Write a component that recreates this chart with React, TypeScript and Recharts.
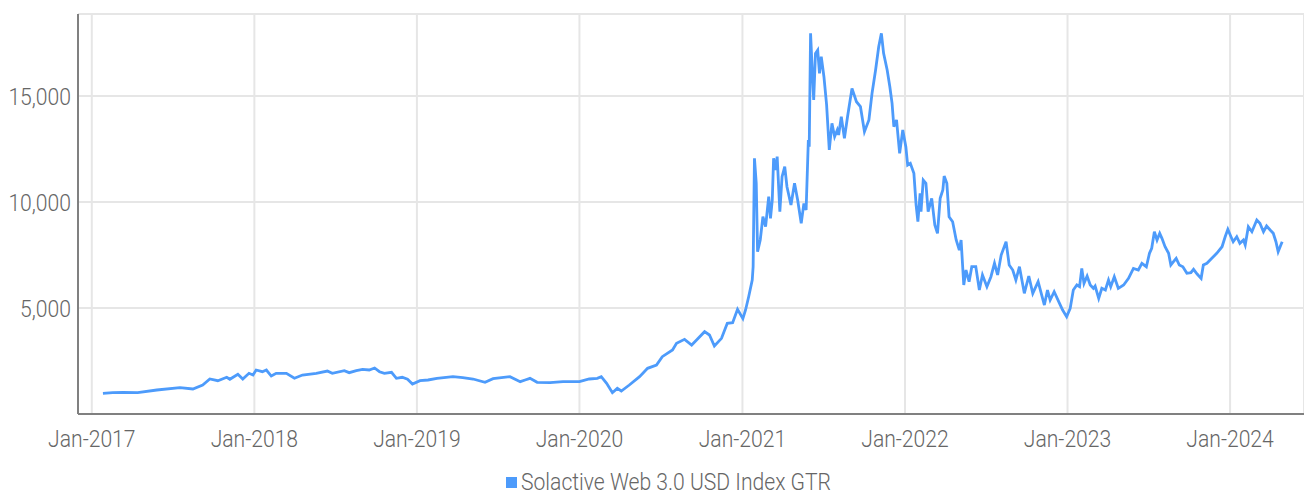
import React from 'react';
import { LineChart, Line, XAxis, YAxis, CartesianGrid, Legend } from 'recharts';

type Pt = [string, number];

const SERIES_NAME = 'Solactive Web 3.0 USD Index GTR';
const LINE_COLOR = '#4d9bfb';
const TEXT_COLOR = '#666666';

// index level readings, roughly weekly, more dense where it moves a lot
const pts2017: Pt[] = [
  ['2017-01-26', 976], ['2017-02-17', 1005], ['2017-03-12', 1023], ['2017-04-14', 1005],
  ['2017-05-27', 1132], ['2017-07-18', 1241], ['2017-08-16', 1179], ['2017-09-07', 1368],
  ['2017-09-23', 1651], ['2017-10-11', 1571], ['2017-10-31', 1731], ['2017-11-07', 1637],
  ['2017-11-25', 1873], ['2017-12-06', 1651], ['2017-12-20', 1920], ['2017-12-29', 1840],
];
const pts2018: Pt[] = [
  ['2018-01-05', 2075], ['2018-01-19', 1995], ['2018-01-28', 2075], ['2018-02-08', 1792],
  ['2018-02-19', 1920], ['2018-03-14', 1920], ['2018-04-01', 1684], ['2018-04-19', 1840],
  ['2018-05-20', 1920], ['2018-06-14', 2028], ['2018-06-25', 1920], ['2018-07-22', 2043],
  ['2018-08-02', 1950], ['2018-08-18', 2043], ['2018-09-01', 2108], ['2018-09-16', 2075],
  ['2018-09-28', 2170], ['2018-10-09', 1995], ['2018-10-20', 1920], ['2018-11-05', 1967],
  ['2018-11-16', 1684], ['2018-11-29', 1731], ['2018-12-11', 1637], ['2018-12-22', 1415],
];
const pts2019: Pt[] = [
  ['2019-01-08', 1571], ['2019-01-26', 1604], ['2019-02-15', 1684], ['2019-03-23', 1760],
  ['2019-04-14', 1713], ['2019-05-07', 1651], ['2019-06-03', 1495], ['2019-06-21', 1667],
  ['2019-07-29', 1760], ['2019-08-21', 1525], ['2019-09-01', 1604], ['2019-09-12', 1684],
  ['2019-09-28', 1495], ['2019-10-27', 1478], ['2019-11-25', 1525],
];
const pts2020: Pt[] = [
  ['2020-01-01', 1525], ['2020-01-23', 1651], ['2020-02-10', 1684], ['2020-02-19', 1760],
  ['2020-03-02', 1447], ['2020-03-15', 1005], ['2020-03-26', 1211], ['2020-04-04', 1085],
  ['2020-04-22', 1368], ['2020-05-15', 1760], ['2020-06-02', 2155], ['2020-06-22', 2311],
  ['2020-07-05', 2703], ['2020-07-28', 3019], ['2020-08-06', 3335], ['2020-08-24', 3523],
  ['2020-09-09', 3255], ['2020-09-20', 3491], ['2020-10-08', 3883], ['2020-10-19', 3727],
  ['2020-10-30', 3208], ['2020-11-15', 3569], ['2020-11-28', 4278], ['2020-12-10', 4309],
  ['2020-12-21', 4939], ['2021-01-02', 4500],
];
const pts2021: Pt[] = [
  ['2021-01-08', 4906], ['2021-01-15', 5533], ['2021-01-23', 6320], ['2021-01-25', 6948],
  ['2021-01-28', 12062], ['2021-02-01', 10883], ['2021-02-04', 7656], ['2021-02-10', 8208],
  ['2021-02-16', 9307], ['2021-02-22', 8836], ['2021-03-01', 10251], ['2021-03-05', 9230],
  ['2021-03-09', 10094], ['2021-03-12', 12062], ['2021-03-16', 11510], ['2021-03-20', 12140],
  ['2021-03-26', 9543], ['2021-03-31', 11194], ['2021-04-06', 11666], ['2021-04-11', 10722],
  ['2021-04-20', 9858], ['2021-04-28', 10883], ['2021-05-05', 10094], ['2021-05-13', 8995],
  ['2021-05-19', 9936], ['2021-05-24', 9622], ['2021-05-29', 12926], ['2021-05-31', 12612],
  ['2021-06-03', 17956], ['2021-06-07', 16068], ['2021-06-10', 14811], ['2021-06-14', 17014],
  ['2021-06-19', 17170], ['2021-06-23', 16068], ['2021-06-27', 16855], ['2021-07-03', 15911],
  ['2021-07-09', 14580], ['2021-07-15', 12455], ['2021-07-21', 13713], ['2021-07-27', 13083],
  ['2021-08-02', 13398], ['2021-08-05', 13162], ['2021-08-11', 14025], ['2021-08-18', 13005],
  ['2021-08-25', 14025], ['2021-09-04', 15361], ['2021-09-14', 14733], ['2021-09-23', 14497],
  ['2021-10-02', 13320], ['2021-10-12', 13870], ['2021-10-19', 15127], ['2021-10-27', 16226],
  ['2021-11-03', 17327], ['2021-11-09', 17956], ['2021-11-14', 17014], ['2021-11-22', 16226],
  ['2021-11-28', 15440], ['2021-12-03', 14655], ['2021-12-07', 13555], ['2021-12-13', 13870],
  ['2021-12-20', 12297], ['2021-12-27', 13398],
];
const pts2022: Pt[] = [
  ['2022-01-03', 12600], ['2022-01-07', 11745], ['2022-01-13', 11825], ['2022-01-21', 11354],
  ['2022-01-26', 9858], ['2022-01-30', 9072], ['2022-02-04', 10411], ['2022-02-06', 9543],
  ['2022-02-11', 11038], ['2022-02-17', 10883], ['2022-02-22', 9543], ['2022-03-02', 10175],
  ['2022-03-09', 8915], ['2022-03-15', 8524], ['2022-03-21', 10175], ['2022-03-27', 10566],
  ['2022-03-30', 11227], ['2022-04-05', 10883], ['2022-04-10', 9307], ['2022-04-18', 9072],
  ['2022-04-26', 8208], ['2022-05-03', 7736], ['2022-05-07', 8208], ['2022-05-13', 6085],
  ['2022-05-18', 6792], ['2022-05-25', 6241], ['2022-05-31', 6948], ['2022-06-09', 6948],
  ['2022-06-17', 5849], ['2022-06-24', 6557], ['2022-07-04', 6005], ['2022-07-13', 6477],
  ['2022-07-21', 7109], ['2022-07-28', 6557], ['2022-08-05', 7500], ['2022-08-16', 8127],
  ['2022-08-23', 7029], ['2022-08-31', 6792], ['2022-09-07', 6320], ['2022-09-15', 6948],
  ['2022-09-26', 5692], ['2022-10-06', 6509], ['2022-10-15', 5692], ['2022-10-27', 6241],
  ['2022-11-10', 5141], ['2022-11-17', 5849], ['2022-11-23', 5377], ['2022-12-02', 5770],
  ['2022-12-14', 5220], ['2022-12-21', 4906], ['2022-12-30', 4591],
];
const pts2023: Pt[] = [
  ['2023-01-07', 4985], ['2023-01-14', 5849], ['2023-01-22', 6085], ['2023-01-28', 6005],
  ['2023-02-02', 6871], ['2023-02-07', 6163], ['2023-02-14', 6509], ['2023-02-21', 6085],
  ['2023-02-28', 5929], ['2023-03-04', 6038], ['2023-03-12', 5457], ['2023-03-19', 5929],
  ['2023-03-27', 5849], ['2023-04-03', 6320], ['2023-04-08', 6005], ['2023-04-16', 6477],
  ['2023-04-25', 5929], ['2023-05-07', 6085], ['2023-05-18', 6400], ['2023-05-29', 6871],
  ['2023-06-09', 6792], ['2023-06-17', 7109], ['2023-06-27', 6948], ['2023-07-04', 7580],
  ['2023-07-09', 7816], ['2023-07-15', 8599], ['2023-07-21', 8208], ['2023-07-27', 8524],
  ['2023-08-01', 8288], ['2023-08-08', 7892], ['2023-08-16', 7580], ['2023-08-21', 7029],
  ['2023-08-27', 7184], ['2023-09-02', 7344], ['2023-09-09', 7029], ['2023-09-17', 6948],
  ['2023-09-26', 6637], ['2023-10-05', 6665], ['2023-10-11', 6826], ['2023-10-19', 6604],
  ['2023-10-28', 6400], ['2023-11-02', 7029], ['2023-11-10', 7109], ['2023-11-21', 7344],
  ['2023-12-02', 7580], ['2023-12-14', 7892], ['2023-12-21', 8363], ['2023-12-27', 8712],
];
const pts2024: Pt[] = [
  ['2024-01-03', 8363], ['2024-01-08', 8127], ['2024-01-16', 8363], ['2024-01-23', 8052],
  ['2024-01-31', 8208], ['2024-02-04', 7972], ['2024-02-11', 8835], ['2024-02-19', 8599],
  ['2024-03-01', 9151], ['2024-03-08', 8995], ['2024-03-16', 8599], ['2024-03-23', 8868],
  ['2024-03-31', 8679], ['2024-04-07', 8524], ['2024-04-13', 8127], ['2024-04-18', 7656],
  ['2024-04-24', 7972], ['2024-04-27', 8127],
];

const xTicks = [
  '2017-01-01', '2018-01-01', '2019-01-01', '2020-01-01',
  '2021-01-01', '2022-01-01', '2023-01-01', '2024-01-01',
];
const yTicks = [5000, 10000, 15000];
const xRange = ['2016-12-01', '2024-06-15'];
const yMax = 18870;

const MONTHS = ['Jan', 'Feb', 'Mar', 'Apr', 'May', 'Jun', 'Jul', 'Aug', 'Sep', 'Oct', 'Nov', 'Dec'];

const ts = (d: string) => Date.parse(d + 'T00:00:00Z');
const fmtDate = (t: number) => {
  const d = new Date(t);
  return `${MONTHS[d.getUTCMonth()]}-${d.getUTCFullYear()}`;
};
const fmtNum = (v: number) => v.toLocaleString('en-US');

const data = [...pts2017, ...pts2018, ...pts2019, ...pts2020, ...pts2021, ...pts2022, ...pts2023, ...pts2024]
  .map(([d, v]) => ({ t: ts(d), value: v }));

const FONT = 'Roboto, "Noto Sans", sans-serif';
const SQUEEZE = 0.88; // the original uses a condensed face

const XTick = (props: any) => {
  const { x, y, payload } = props;
  return (
    <g transform={`translate(${x},${y})`}>
      <text transform={`scale(${SQUEEZE},1)`} textAnchor="middle" dy="0.71em"
        fill={TEXT_COLOR} fontSize={24} fontFamily={FONT} fontWeight={300}>
        {fmtDate(payload.value)}
      </text>
    </g>
  );
};

const YTick = (props: any) => {
  const { x, y, payload } = props;
  return (
    <g transform={`translate(${x},${y})`}>
      <text transform={`scale(${SQUEEZE},1)`} textAnchor="end" dy="0.36em"
        fill={TEXT_COLOR} fontSize={24} fontFamily={FONT} fontWeight={300}>
        {fmtNum(payload.value)}
      </text>
    </g>
  );
};

const LegendBox = () => (
  <svg width={1304} height={35} style={{ display: 'block' }}>
    <rect x={506} y={17} width={11} height={11} fill={LINE_COLOR} />
    <g transform="translate(521,30)">
      <text transform={`scale(${SQUEEZE},1)`} fill={TEXT_COLOR} fontSize={24}
        fontFamily={FONT} fontWeight={300}>
        {SERIES_NAME}
      </text>
    </g>
  </svg>
);

export default function App() {
  return (
    <div style={{ position: 'absolute', left: 0, top: 0, background: '#fff' }}>
      <LineChart width={1304} height={495} data={data}
        margin={{ top: 14, right: 0, bottom: 0, left: 0 }}>
        <CartesianGrid stroke="#e6e6e6" strokeWidth={2} />
        <XAxis dataKey="t" type="number" domain={xRange.map(ts)} ticks={xTicks.map(ts)}
          allowDataOverflow height={46} tickLine={false} tickSize={0} tickMargin={16}
          axisLine={{ stroke: '#808080', strokeWidth: 2 }} tick={<XTick />} />
        <YAxis type="number" domain={[0, yMax]} ticks={yTicks} allowDataOverflow width={78}
          tickLine={false} tickSize={0} tickMargin={7}
          axisLine={{ stroke: '#808080', strokeWidth: 2 }} tick={<YTick />} />
        <Legend verticalAlign="bottom" height={35} content={() => <LegendBox />} />
        <Line type="linear" dataKey="value" name={SERIES_NAME} stroke={LINE_COLOR}
          strokeWidth={2.8} dot={false} isAnimationActive={false} />
      </LineChart>
    </div>
  );
}
